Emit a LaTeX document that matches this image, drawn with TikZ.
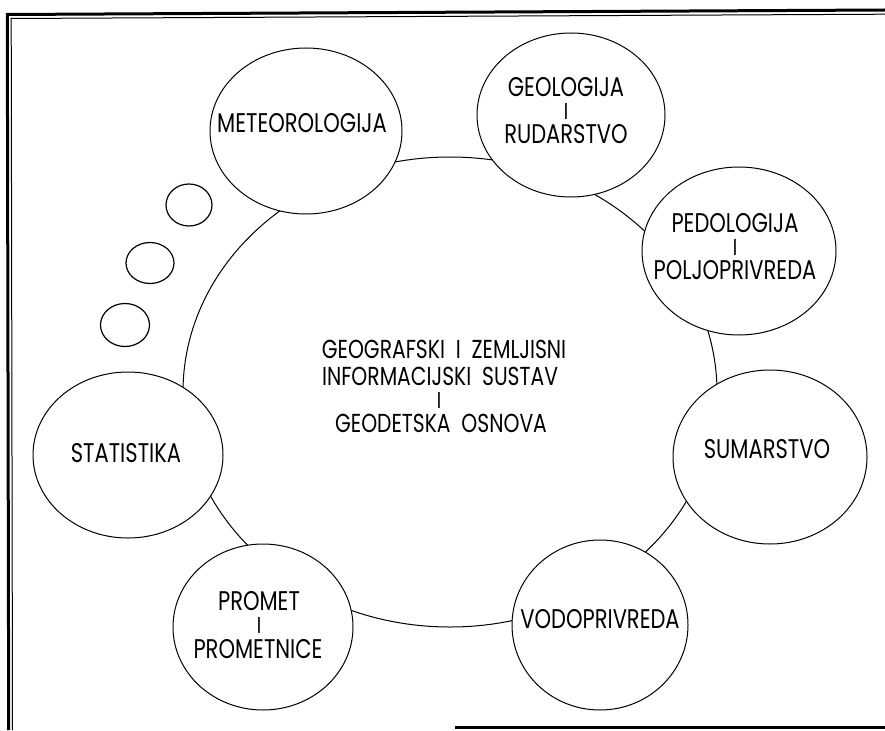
\documentclass[tikz,border=0pt]{standalone}
\usepackage{fontspec}
\setmainfont{Poppins}[FakeStretch=0.78]
\usetikzlibrary{shapes.geometric}
\begin{document}
\begin{tikzpicture}[x=1pt,y=-1pt,
  bub/.style={ellipse, draw, line width=1pt, fill=white, inner sep=0pt, outer sep=0pt},
  dotbub/.style={ellipse, draw, line width=1.2pt, fill=white, inner sep=0pt, outer sep=0pt},
  lbl/.style={anchor=base, font=\fontsize{27}{27}\selectfont, inner sep=0pt, text height=15pt, text depth=0pt},
  midI/.style={anchor=base, font=\fontsize{23}{23}\selectfont, inner sep=0pt, text height=12pt, text depth=0pt},
  ctr/.style={anchor=base, font=\fontsize{26}{26}\selectfont, inner sep=0pt, text height=15pt, text depth=0pt},
  frthick/.style={line width=3pt, line join=miter},
  frthin/.style={line width=1pt, line join=miter}]
\useasboundingbox[fill=white] (0,0) rectangle (885,730);
% frame
\draw[frthick] (8.7,730) -- (7.3,14.5) -- (885,10);
\draw[frthin] (12.5,730) -- (11.2,18.5) -- (885,14.2);
\draw[frthick] (455,727.5) -- (885,727.5);
% central system
\node[bub, minimum width=534pt, minimum height=470pt] (gis) at (450,392) {};
\node[ctr] (gis1) at (444,358) {GEOGRAFSKI~~I~~ZEMLJISNI};
\node[ctr] (gis2) at (440,385) {INFORMACIJSKI~~SUSTAV};
\node[midI] (gis3) at (439,408) {I};
\node[ctr] (gis4) at (441,432) {GEODETSKA~~OSNOVA};
% surrounding fields
\node[bub, minimum width=192pt, minimum height=166pt] (met) at (306,131) {};
\node[bub, minimum width=188pt, minimum height=164pt] (geo) at (571,115) {};
\node[bub, minimum width=194pt, minimum height=168pt] (ped) at (739,251) {};
\node[bub, minimum width=194pt, minimum height=174pt] (sum) at (770,457) {};
\node[bub, minimum width=176pt, minimum height=170pt] (vod) at (600,625) {};
\node[bub, minimum width=180pt, minimum height=166pt] (pro) at (263,627) {};
\node[bub, minimum width=190pt, minimum height=166pt] (sta) at (128,455) {};
% small bubbles
\node[dotbub, minimum width=46pt, minimum height=42pt] (d1) at (189,205) {};
\node[dotbub, minimum width=48pt, minimum height=41pt] (d2) at (150,263) {};
\node[dotbub, minimum width=49pt, minimum height=43pt] (d3) at (125,325) {};
% labels
\node[lbl] (met1) at (302,133) {METEOROLOGIJA};
\node[lbl] (geo1) at (566,97) {GEOLOGIJA};
\node[midI] (geo2) at (566,120) {I};
\node[lbl] (geo3) at (566,144) {RUDARSTVO};
\node[lbl] (ped1) at (735,232) {PEDOLOGIJA};
\node[midI] (ped2) at (735,255) {I};
\node[lbl] (ped3) at (735,279) {POLJOPRIVREDA};
\node[lbl] (sum1) at (767,458) {SUMARSTVO};
\node[lbl] (vod1) at (600,628) {VODOPRIVREDA};
\node[lbl] (pro1) at (259,610) {PROMET};
\node[midI] (pro2) at (259,633) {I};
\node[lbl] (pro3) at (258,658) {PROMETNICE};
\node[lbl] (sta1) at (126,462) {STATISTIKA};
\end{tikzpicture}
\end{document}
